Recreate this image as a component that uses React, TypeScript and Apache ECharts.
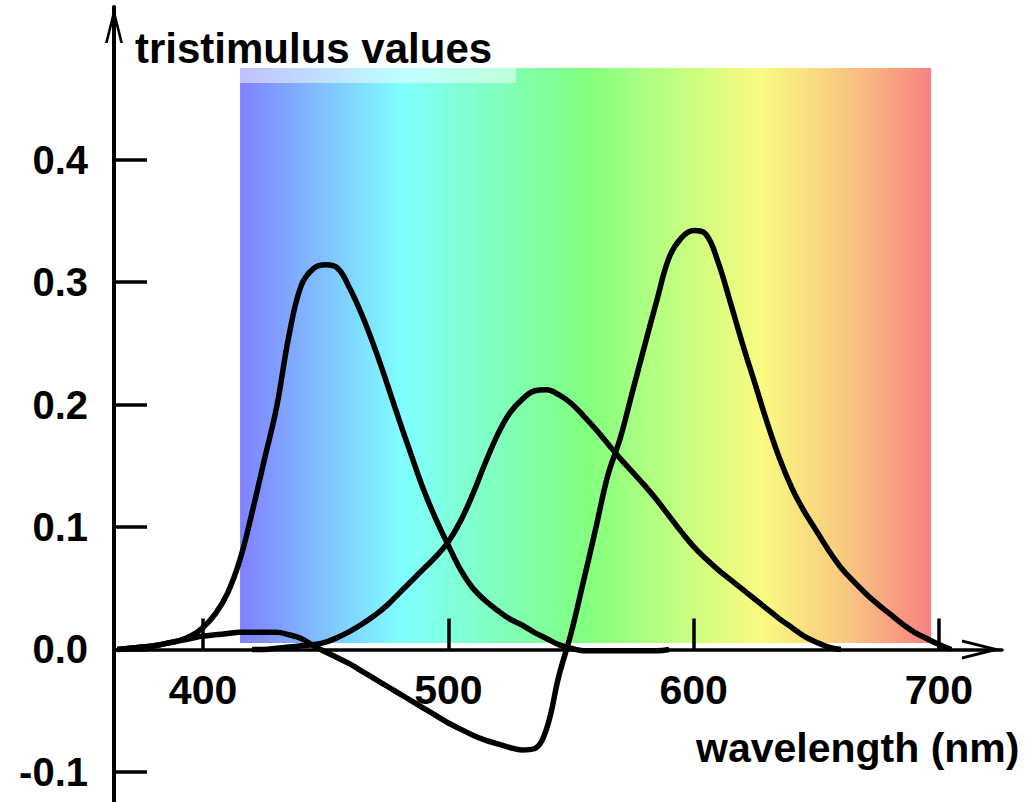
import React, { useEffect, useRef } from "react";
import * as echarts from "echarts";

// ---- data ----
const wavelengths = [
  365, 370, 375, 380, 385, 390, 395, 400, 405, 410, 415, 420, 425, 430, 435, 440, 445, 450,
  455, 460, 465, 470, 475, 480, 485, 490, 495, 500, 505, 510, 515, 520, 525, 530, 535, 540,
  545, 550, 555, 560, 565, 570, 575, 580, 585, 590, 595, 600, 605, 610, 615, 620, 625, 630,
  635, 640, 645, 650, 655, 660, 665, 670, 675, 680, 685, 690, 695, 700, 705,
];

const rBar = [
  0.0, 0.001, 0.002, 0.003, 0.005, 0.007, 0.009, 0.011, 0.012, 0.013, 0.014, 0.014, 0.014, 0.014, 0.012, 0.009, 0.003, -0.002,
  -0.007, -0.012, -0.018, -0.024, -0.03, -0.036, -0.042, -0.048, -0.054, -0.06, -0.065, -0.07, -0.074, -0.077, -0.08, -0.082, -0.081, -0.065,
  -0.022, 0.013, 0.055, 0.098, 0.142, 0.172, 0.21, 0.248, 0.285, 0.32, 0.336, 0.342, 0.339, 0.316, 0.283, 0.249, 0.217, 0.185,
  0.156, 0.132, 0.113, 0.097, 0.081, 0.067, 0.056, 0.046, 0.037, 0.029, 0.021, 0.014, 0.009, 0.004, 0.0,
];

const gBar = [
  null, null, null, null, null, null, null, null, null, null, null, 0.0, 0.0, 0.001, 0.002, 0.003, 0.004, 0.006,
  0.01, 0.015, 0.021, 0.028, 0.036, 0.046, 0.056, 0.066, 0.076, 0.088, 0.105, 0.127, 0.152, 0.175, 0.193, 0.204, 0.211, 0.212,
  0.208, 0.201, 0.191, 0.18, 0.168, 0.156, 0.145, 0.134, 0.122, 0.109, 0.096, 0.084, 0.074, 0.065, 0.057, 0.049, 0.041, 0.033,
  0.025, 0.018, 0.011, 0.006, 0.002, 0.0, null, null, null, null, null, null, null, null, null,
];

const bBar = [
  0.0, 0.001, 0.002, 0.003, 0.005, 0.007, 0.011, 0.018, 0.029, 0.046, 0.073, 0.112, 0.155, 0.198, 0.256, 0.297, 0.311, 0.314,
  0.311, 0.294, 0.272, 0.246, 0.217, 0.187, 0.158, 0.13, 0.106, 0.085, 0.065, 0.05, 0.04, 0.032, 0.025, 0.02, 0.014, 0.009,
  0.004, 0.001, -0.001, -0.001, -0.001, -0.001, -0.001, -0.001, -0.001, 0.0, null, null, null, null, null, null, null, null,
  null, null, null, null, null, null, null, null, null, null, null, null, null, null, null,
];

const xTickValues = [400, 500, 600, 700];
const yTickValues = [-0.1, 0.0, 0.1, 0.2, 0.3, 0.4];

// spectrum backdrop: wavelength range and value range, colour stops
const spectrumRange = [415.1, 696.8];
const spectrumValues = [0.0053, 0.4747];
const spectrumStopOffsets = [0, 0.118, 0.236, 0.368, 0.499, 0.627, 0.755, 0.877, 1];
const spectrumStopColors = [
  "#8080FF", "#80C0FF", "#80FFFF", "#80FFC0", "#80FF80", "#C0FF80", "#FAFA80", "#F8C880", "#F88080",
];
// washed strip below the heading
const washRange = [415.1, 527.6];
const washValues = [0.4624, 0.4747];

const X_MIN = 363.7;
const X_MAX = 725.7;
const Y_MIN = -0.1245;
const Y_MAX = 0.5245;

const FONT = '"Liberation Sans", Arial, Helvetica, sans-serif';
const CHEVRON = "path://M10,0 L20,40 L17,40 L10,12 L3,40 L0,40 Z";

function pairs(values: (number | null)[]) {
  return wavelengths.map((w, i) => [w, values[i]]);
}

export default function App() {
  const ref = useRef<HTMLDivElement>(null);

  useEffect(() => {
    if (!ref.current) return;
    const chart = echarts.init(ref.current, undefined, { renderer: "svg" });

    const gradient = {
      type: "linear",
      x: 0,
      y: 0,
      x2: 1,
      y2: 0,
      colorStops: spectrumStopOffsets.map((o, i) => ({ offset: o, color: spectrumStopColors[i] })),
    };

    const lineSeries = (name: string, values: (number | null)[]) => ({
      name,
      type: "line",
      data: pairs(values),
      showSymbol: false,
      smooth: 0.4,
      connectNulls: false,
      z: 3,
      lineStyle: { color: "#000", width: 5.5 },
      silent: true,
    });

    const labelFont = { fontWeight: "bold", fontFamily: FONT, color: "#000" };

    chart.setOption({
      animation: false,
      backgroundColor: "#fff",
      title: [
        {
          text: "tristimulus values",
          left: 135,
          top: 27,
          padding: 0,
          textStyle: { fontSize: 42, ...labelFont },
        },
        {
          text: "wavelength (nm)",
          left: 696,
          top: 727,
          padding: 0,
          textStyle: { fontSize: 41, ...labelFont },
        },
      ],
      grid: [
        { left: 114, right: 34, top: 7, bottom: 0, containLabel: false, outerBoundsMode: "none" },
        // companion grid whose bottom edge sits on the zero line, used to place the x tick labels
        { left: 114, right: 34, top: 7, bottom: 152.5, containLabel: false, outerBoundsMode: "none" },
      ],
      xAxis: [
        {
          type: "value",
          gridIndex: 0,
          min: X_MIN,
          max: X_MAX,
          z: 5,
          splitLine: { show: false },
          axisLine: {
            onZero: true,
            lineStyle: { color: "#000", width: 3.5 },
            symbol: ["none", CHEVRON],
            symbolSize: [20, 40],
            symbolOffset: [0, -20],
          },
          axisTick: {
            inside: true,
            length: 31,
            customValues: xTickValues,
            lineStyle: { color: "#000", width: 3.5 },
          },
          axisLabel: { show: false },
        },
        {
          type: "value",
          gridIndex: 1,
          min: X_MIN,
          max: X_MAX,
          z: 5,
          splitLine: { show: false },
          axisLine: { show: false },
          axisTick: { show: false },
          axisLabel: {
            customValues: xTickValues,
            margin: 20,
            fontSize: 41,
            ...labelFont,
          },
        },
      ],
      yAxis: [
        {
          type: "value",
          gridIndex: 0,
          min: Y_MIN,
          max: Y_MAX,
          z: 5,
          splitLine: { show: false },
          axisLine: {
            onZero: false,
            lineStyle: { color: "#000", width: 4 },
            symbol: ["none", CHEVRON],
            symbolSize: [18, 36],
            symbolOffset: [0, -18],
          },
          axisTick: {
            inside: true,
            length: 33,
            customValues: yTickValues,
            lineStyle: { color: "#000", width: 3.5 },
          },
          axisLabel: {
            customValues: yTickValues,
            margin: 26,
            fontSize: 40,
            ...labelFont,
            formatter: (v: number) => v.toFixed(1),
          },
        },
        {
          type: "value",
          gridIndex: 1,
          min: 0,
          max: Y_MAX,
          show: false,
        },
      ],
      series: [
        {
          name: "spectrum",
          type: "line",
          xAxisIndex: 0,
          yAxisIndex: 0,
          data: [],
          silent: true,
          markArea: {
            silent: true,
            z: 1,
            data: [
              [
                { coord: [spectrumRange[0], spectrumValues[0]], itemStyle: { color: gradient } },
                { coord: [spectrumRange[1], spectrumValues[1]] },
              ],
              [
                { coord: [washRange[0], washValues[0]], itemStyle: { color: "rgba(255,255,255,0.5)" } },
                { coord: [washRange[1], washValues[1]] },
              ],
            ],
          },
        },
        lineSeries("r", rBar),
        lineSeries("g", gBar),
        lineSeries("b", bBar),
      ],
    });

    return () => chart.dispose();
  }, []);

  return (
    <div
      ref={ref}
      style={{ position: "fixed", left: 0, top: 0, width: 1036, height: 802, background: "#fff" }}
    />
  );
}
